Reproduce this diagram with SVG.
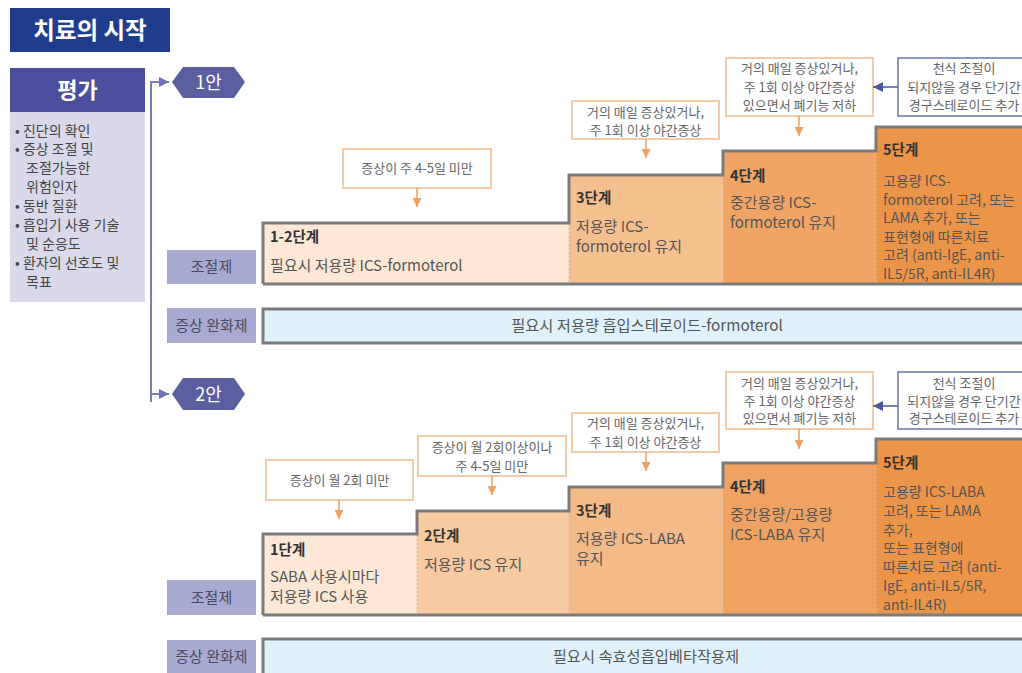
<svg xmlns="http://www.w3.org/2000/svg" width="1022" height="673" viewBox="0 0 1022 673">
<defs>
<marker id="ao" viewBox="0 0 10 10" refX="10" refY="5" markerWidth="9" markerHeight="9" markerUnits="userSpaceOnUse" orient="auto"><path d="M0,0 L10,5 L0,10 z" fill="#f0a060"/></marker>
<marker id="ab" viewBox="0 0 10 10" refX="10" refY="5" markerWidth="10" markerHeight="10" markerUnits="userSpaceOnUse" orient="auto"><path d="M0,0 L10,5 L0,10 z" fill="#4a58a0"/></marker>
<marker id="ap" viewBox="0 0 10 10" refX="10" refY="5" markerWidth="10" markerHeight="10" markerUnits="userSpaceOnUse" orient="auto"><path d="M0,0 L10,5 L0,10 z" fill="#6e72b0"/></marker>
</defs>
<style>
text{font-family:"Noto Sans CJK KR","Noto Sans",sans-serif;}
.lbl{fill:#a9aad2;}
.lt{font-size:15px;fill:#4a4a5a;text-anchor:middle;}
.st{font-size:14.5px;font-weight:bold;fill:#333;}
.sc{font-size:15px;fill:#555;}
.s5{font-size:14px;fill:#555;}
.cb{fill:#fff;stroke:#f2b98a;stroke-width:1.5;}
.bb{fill:#fff;stroke:#6a74ab;stroke-width:1.5;}
.ct{font-size:13px;fill:#666;text-anchor:middle;}
.ol{fill:none;stroke:#7b7b7b;stroke-width:3;}
.rb{fill:#dff2fa;stroke:#7b7b7b;stroke-width:3;}
.rt{font-size:15.3px;fill:#555;text-anchor:middle;}
.hx{fill:#5b5f9f;}
.ht{font-size:18px;fill:#fff;text-anchor:middle;}
.oa{stroke:#f0a060;stroke-width:1.5;fill:none;}
.ba{stroke:#4a58a0;stroke-width:1.5;fill:none;}
.pa{stroke:#7a7db5;stroke-width:2;fill:none;}
.dv{stroke:#d9c0a8;stroke-width:1;stroke-dasharray:2 2;}
</style>
<rect width="1022" height="673" fill="#fff"/>

<g id="title">
<rect x="10" y="8" width="160" height="44" fill="#203c8c"/>
<text x="90" y="38.5" font-size="23.5" font-weight="bold" fill="#fff" text-anchor="middle">치료의 시작</text>
</g>

<g id="assessment">
<rect x="10" y="68" width="135" height="44" fill="#4b4f9d"/>
<text x="77.5" y="98" font-size="22" font-weight="bold" fill="#fff" text-anchor="middle">평가</text>
<rect x="10" y="112" width="135" height="190" fill="#d9d9eb"/>
<g font-size="14" fill="#444">
<text x="15" y="135.5">• 진단의 확인</text>
<text x="15" y="154.4">• 증상 조절 및</text>
<text x="26" y="173.3">조절가능한</text>
<text x="26" y="192.2">위험인자</text>
<text x="15" y="211.1">• 동반 질환</text>
<text x="15" y="230">• 흡입기 사용 기술</text>
<text x="26" y="248.9">및 순응도</text>
<text x="15" y="267.8">• 환자의 선호도 및</text>
<text x="26" y="286.7">목표</text>
</g>
</g>

<g id="plan1">
<polygon class="hx" points="172,82 183,67 234,67 245,82 234,98 183,98"/>
<text class="ht" x="208.5" y="88.5">1안</text>
</g>
<g id="plan2">
<polygon class="hx" points="172,394 183,378 234,378 245,394 234,410 183,410"/>
<text class="ht" x="208.5" y="400.5">2안</text>
</g>

<g id="labels1">
<rect class="lbl" x="167" y="250" width="89" height="34"/>
<text class="lt" x="211.5" y="272">조절제</text>
<rect class="lbl" x="167" y="308" width="89" height="35"/>
<text class="lt" x="211.5" y="331">증상 완화제</text>
</g>

<g id="steps1">
<rect x="263" y="223" width="306" height="61" fill="#fde8d6"/>
<rect x="569" y="175" width="154" height="109" fill="#f6c08e"/>
<rect x="723" y="151" width="153" height="133" fill="#f0a466"/>
<rect x="876" y="127" width="148" height="157" fill="#ec9447"/>
<line class="dv" x1="569" y1="224" x2="569" y2="283"/>
<line class="dv" x1="723" y1="176" x2="723" y2="283"/>
<line class="dv" x1="876" y1="152" x2="876" y2="283"/>
<path class="ol" d="M263,284 V223 H569 V175 H723 V151 H876 V127 H1026 M263,284 H1026"/>
<text class="st" x="270" y="242">1-2단계</text>
<text class="sc" x="270" y="271">필요시 저용량 ICS-formoterol</text>
<text class="st" x="576" y="203">3단계</text>
<text class="sc" x="576" y="232">저용량 ICS-</text>
<text class="sc" x="576" y="252">formoterol 유지</text>
<text class="st" x="730" y="181">4단계</text>
<text class="sc" x="730" y="208">중간용량 ICS-</text>
<text class="sc" x="730" y="228">formoterol 유지</text>
<text class="st" x="883" y="155">5단계</text>
<text class="s5" x="883" y="186">고용량 ICS-</text>
<text class="s5" x="883" y="204.5">formoterol 고려, 또는</text>
<text class="s5" x="883" y="223">LAMA 추가, 또는</text>
<text class="s5" x="883" y="241.5">표현형에 따른치료</text>
<text class="s5" x="883" y="260">고려 (anti-IgE, anti-</text>
<text class="s5" x="883" y="278.5">IL5/5R, anti-IL4R)</text>
</g>

<g id="reliever1">
<rect class="rb" x="263" y="309" width="763" height="34"/>
<text class="rt" x="647" y="331">필요시 저용량 흡입스테로이드-formoterol</text>
</g>

<g id="cond1a">
<rect class="cb" x="343" y="149" width="148" height="39"/>
<text class="ct" x="417" y="173">증상이 주 4-5일 미만</text>
</g>
<g id="cond1b">
<rect class="cb" x="572" y="101" width="147" height="38"/>
<text class="ct" x="645.5" y="116.5">거의 매일 증상있거나,</text>
<text class="ct" x="645.5" y="134.5">주 1회 이상 야간증상</text>
</g>
<g id="cond1c">
<rect class="cb" x="726" y="58" width="147" height="58"/>
<text class="ct" x="799.5" y="72.5">거의 매일 증상있거나,</text>
<text class="ct" x="799.5" y="91.5">주 1회 이상 야간증상</text>
<text class="ct" x="799.5" y="109.5">있으면서 폐기능 저하</text>
</g>
<g id="cond1d">
<rect class="bb" x="898" y="58" width="130" height="58"/>
<text class="ct" x="964" y="72.5">천식 조절이</text>
<text class="ct" x="964" y="91.5">되지않을 경우 단기간</text>
<text class="ct" x="964" y="109.5">경구스테로이드 추가</text>
</g>

<g id="labels2">
<rect class="lbl" x="167" y="580" width="89" height="35"/>
<text class="lt" x="211.5" y="603">조절제</text>
<rect class="lbl" x="167" y="640" width="89" height="35"/>
<text class="lt" x="211.5" y="662">증상 완화제</text>
</g>

<g id="steps2">
<rect x="263" y="534" width="154" height="81" fill="#fde8d6"/>
<rect x="417" y="511" width="152" height="104" fill="#f7caa2"/>
<rect x="569" y="487" width="154" height="128" fill="#f4ba87"/>
<rect x="723" y="463" width="153" height="152" fill="#f0a262"/>
<rect x="876" y="439" width="148" height="176" fill="#ec9447"/>
<line class="dv" x1="417" y1="535" x2="417" y2="614"/>
<line class="dv" x1="569" y1="512" x2="569" y2="614"/>
<line class="dv" x1="723" y1="488" x2="723" y2="614"/>
<line class="dv" x1="876" y1="464" x2="876" y2="614"/>
<path class="ol" d="M263,615 V534 H417 V511 H569 V487 H723 V463 H876 V439 H1026 M263,615 H1026"/>
<text class="st" x="270" y="555">1단계</text>
<text class="sc" x="270" y="582">SABA 사용시마다</text>
<text class="sc" x="270" y="602">저용량 ICS 사용</text>
<text class="st" x="424" y="541">2단계</text>
<text class="sc" x="424" y="570">저용량 ICS 유지</text>
<text class="st" x="576" y="516">3단계</text>
<text class="sc" x="576" y="544">저용량 ICS-LABA</text>
<text class="sc" x="576" y="564">유지</text>
<text class="st" x="730" y="492">4단계</text>
<text class="sc" x="730" y="520">중간용량/고용량</text>
<text class="sc" x="730" y="540">ICS-LABA 유지</text>
<text class="st" x="883" y="468">5단계</text>
<text class="s5" x="883" y="497">고용량 ICS-LABA</text>
<text class="s5" x="883" y="516">고려, 또는 LAMA</text>
<text class="s5" x="883" y="535">추가,</text>
<text class="s5" x="883" y="553">또는 표현형에</text>
<text class="s5" x="883" y="572">따른치료 고려 (anti-</text>
<text class="s5" x="883" y="591">IgE, anti-IL5/5R,</text>
<text class="s5" x="883" y="610">anti-IL4R)</text>
</g>

<g id="reliever2">
<rect class="rb" x="263" y="639" width="763" height="40"/>
<text class="rt" x="646" y="662">필요시 속효성흡입베타작용제</text>
</g>

<g id="cond2a">
<rect class="cb" x="266" y="460" width="147" height="40"/>
<text class="ct" x="339.5" y="485">증상이 월 2회 미만</text>
</g>
<g id="cond2b">
<rect class="cb" x="418" y="436" width="148" height="40"/>
<text class="ct" x="492" y="451.5">증상이 월 2회이상이나</text>
<text class="ct" x="492" y="470.5">주 4-5일 미만</text>
</g>
<g id="cond2c">
<rect class="cb" x="572" y="413" width="147" height="39"/>
<text class="ct" x="645.5" y="427.5">거의 매일 증상있거나,</text>
<text class="ct" x="645.5" y="446.5">주 1회 이상 야간증상</text>
</g>
<g id="cond2d">
<rect class="cb" x="726" y="372" width="147" height="57"/>
<text class="ct" x="799.5" y="387.5">거의 매일 증상있거나,</text>
<text class="ct" x="799.5" y="405.5">주 1회 이상 야간증상</text>
<text class="ct" x="799.5" y="422.5">있으면서 폐기능 저하</text>
</g>
<g id="cond2e">
<rect class="bb" x="898" y="372" width="130" height="57"/>
<text class="ct" x="964" y="387.5">천식 조절이</text>
<text class="ct" x="964" y="405.5">되지않을 경우 단기간</text>
<text class="ct" x="964" y="422.5">경구스테로이드 추가</text>
</g>

<g id="connectors">
<path class="pa" d="M151,402 V82 H160" />
<path class="pa" d="M151,82 H169" marker-end="url(#ap)"/>
<path class="pa" d="M151,380 V394 H169" marker-end="url(#ap)"/>
<line class="oa" x1="417" y1="188" x2="417" y2="207" marker-end="url(#ao)"/>
<line class="oa" x1="646" y1="139" x2="646" y2="158" marker-end="url(#ao)"/>
<line class="oa" x1="799" y1="116" x2="799" y2="136" marker-end="url(#ao)"/>
<line class="ba" x1="898" y1="87" x2="873" y2="87" marker-end="url(#ab)"/>
<line class="oa" x1="339" y1="500" x2="339" y2="519" marker-end="url(#ao)"/>
<line class="oa" x1="492" y1="476" x2="492" y2="495" marker-end="url(#ao)"/>
<line class="oa" x1="646" y1="452" x2="646" y2="471" marker-end="url(#ao)"/>
<line class="oa" x1="799" y1="429" x2="799" y2="449" marker-end="url(#ao)"/>
<line class="ba" x1="898" y1="406" x2="873" y2="406" marker-end="url(#ab)"/>
</g>
</svg>
